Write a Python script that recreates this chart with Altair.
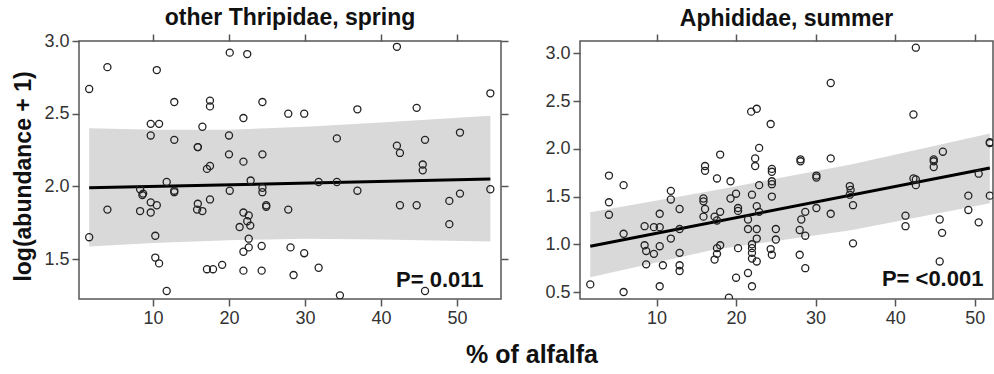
import altair as alt
import pandas as pd

# ---------------- data: other Thripidae, spring ----------------
thrip_x = [1.6, 1.6, 4.0, 4.0, 8.3, 8.6, 8.7, 8.3,
           9.7, 9.7, 9.7, 9.7, 10.8, 10.5, 10.3, 10.3, 10.8, 10.5,
           11.8, 11.8, 12.8, 12.8, 12.8, 12.8,
           15.9, 15.9, 15.8, 15.9, 16.5, 16.5, 17.5, 17.5, 17.1, 17.5, 17.5, 17.1, 17.9, 19.1,
           20.1, 20.0, 20.0, 20.1, 21.9, 21.9, 22.4, 22.85, 21.9, 22.6, 22.4, 22.8, 21.4, 22.6, 22.6, 21.9, 21.9,
           24.3, 24.3, 24.4, 24.4, 24.4, 24.4, 24.9, 24.9,
           27.8, 29.9, 27.8, 28.1, 29.9, 28.5, 31.8, 31.8, 34.2, 34.2, 34.6,
           36.9, 36.9,
           42.1, 42.1, 42.5, 42.5, 44.7, 44.7, 45.8, 45.5, 45.5, 45.8,
           49.0, 49.0, 50.4, 50.4, 54.4, 54.4]
thrip_y = [2.67, 1.65, 2.82, 1.84, 1.98, 1.94, 1.95, 1.83,
           2.43, 2.35, 1.89, 1.82, 2.43, 2.80, 1.66, 1.51, 1.47, 1.87,
           2.03, 1.28, 2.58, 2.32, 1.97, 1.96,
           2.27, 2.27, 1.84, 1.88, 1.83, 2.41, 2.59, 2.55, 2.12, 2.14, 1.91, 1.43, 1.43, 1.46,
           2.92, 2.35, 2.22, 1.97, 2.47, 2.17, 2.91, 2.04, 1.82, 1.80, 1.76, 1.73, 1.72, 1.64, 1.58, 1.55, 1.42,
           1.59, 1.42, 2.58, 2.22, 1.99, 1.96, 1.87, 1.86,
           2.50, 2.50, 1.84, 1.58, 1.54, 1.39, 2.03, 1.44, 2.33, 2.03, 1.25,
           2.53, 1.97,
           2.96, 2.28, 2.23, 1.87, 2.54, 1.87, 2.32, 2.15, 2.11, 1.28,
           1.90, 1.74, 2.37, 1.95, 2.64, 1.98]
thrip_fit_x = [1.6, 54.4]
thrip_fit_y = [1.99, 2.05]
thrip_band_x = [1.6, 10, 20, 30, 40, 54.4]
thrip_band_lo = [1.587, 1.61, 1.63, 1.64, 1.635, 1.62]
thrip_band_hi = [2.40, 2.39, 2.39, 2.41, 2.44, 2.486]

# ---------------- data: Aphididae, summer ----------------
aph_x = [1.67, 4.02, 4.02, 4.02, 5.86, 5.86, 5.86,
         8.5, 8.5, 8.7, 8.7, 9.67, 9.67,
         10.4, 10.4, 10.4, 10.4, 10.8,
         11.8, 11.8, 11.8,
         12.9, 12.9, 12.9, 12.9, 12.9,
         15.9, 15.9, 15.9, 16.1, 16.1, 16.1,
         17.6, 17.3, 17.6, 17.3, 17.6, 17.6, 18.0, 18.0, 18.0,
         19.3, 19.3, 19.1,
         20.0, 20.25, 20.25, 20.25, 20.0,
         21.9, 22.6, 22.4, 22.4, 22.9, 22.9, 22.0, 22.6, 22.9, 21.5, 21.5, 22.6, 22.6, 22.0, 22.0, 22.0, 22.0, 22.6, 21.5, 22.0,
         24.35, 24.5, 24.5, 24.5, 24.5, 24.5, 25.0, 25.0, 24.35, 24.5,
         28.1, 28.1, 28.7, 28.2, 28.0, 28.7, 28.0, 28.7,
         30.1, 30.1, 30.1,
         31.9, 31.9, 31.9,
         34.3, 34.4, 34.3, 34.7, 34.7,
         41.3, 41.3, 42.3, 42.3, 42.6, 42.6, 42.6,
         44.85, 44.85, 44.85, 46.0, 45.6, 45.9, 45.6,
         49.2, 49.2, 50.5, 50.5, 51.9, 51.9, 51.9]
aph_y = [0.58, 1.72, 1.44, 1.31, 1.62, 1.11, 0.50,
         1.19, 0.99, 0.93, 0.79, 1.18, 0.90,
         1.32, 1.18, 0.98, 0.56, 0.78,
         1.56, 1.47, 1.06,
         1.37, 1.16, 0.91, 0.78, 0.72,
         1.48, 1.45, 1.29, 1.82, 1.77, 1.37,
         1.69, 1.29, 1.25, 0.84, 0.96, 0.90, 0.99, 1.94, 1.34,
         1.66, 1.48, 0.44,
         1.53, 1.38, 1.35, 0.96, 0.65,
         2.39, 2.42, 1.90, 1.82, 2.01, 1.62, 1.52, 1.40, 1.34, 1.26, 1.16, 1.16, 1.06, 1.00, 0.96, 0.91, 0.85, 0.82, 0.70, 0.56,
         2.26, 1.79, 1.76, 1.66, 1.63, 1.50, 1.16, 1.05, 0.95, 0.89,
         1.89, 1.87, 1.34, 1.26, 1.15, 1.09, 0.89, 0.75,
         1.72, 1.70, 1.38,
         2.69, 1.90, 1.32,
         1.61, 1.57, 1.52, 1.41, 1.01,
         1.30, 1.19, 2.36, 1.69, 1.68, 1.62, 3.06,
         1.89, 1.87, 1.81, 1.97, 1.26, 1.12, 0.82,
         1.51, 1.36, 1.74, 1.23, 2.07, 2.06, 1.51]
aph_fit_x = [1.67, 51.9]
aph_fit_y = [0.98, 1.80]
aph_band_x = [1.67, 17, 34.6, 51.9]
aph_band_lo = [0.655, 0.94, 1.15, 1.43]
aph_band_hi = [1.335, 1.56, 1.84, 2.16]

x_ticks = [10, 20, 30, 40, 50]
thrip_y_ticks = [1.5, 2.0, 2.5, 3.0]
aph_y_ticks = [0.5, 1.0, 1.5, 2.0, 2.5, 3.0]

LABEL_FONT = "Liberation Sans Narrow, Liberation Sans, Arial"
BOLD_FONT = "Liberation Sans, Arial"


def panel(px, py, fx, fy, bx, blo, bhi, xdom, ydom, yticks, title, ptext,
          ptx, pty, width, ytitle, right_ticks):
    xs = alt.Scale(domain=xdom, nice=False, zero=False)
    ys = alt.Scale(domain=ydom, nice=False, zero=False)
    x_axis = alt.Axis(orient="bottom", values=x_ticks, format="d", title=None)
    if ytitle:
        y_axis = alt.Axis(orient="left", values=yticks, format=".1f", title=ytitle,
                          titleFont=BOLD_FONT, titleFontSize=23, titleFontWeight="bold",
                          titleColor="#111", titlePadding=8, titleY=135)
    else:
        y_axis = alt.Axis(orient="left", values=yticks, format=".1f", title=None)

    band = alt.Chart(pd.DataFrame({"x": bx, "lo": blo, "hi": bhi})).mark_area(
        color="#d9d9d9", opacity=1, clip=True
    ).encode(
        x=alt.X("x:Q", scale=xs, axis=x_axis),
        y=alt.Y("lo:Q", scale=ys, axis=y_axis),
        y2="hi:Q",
    )
    fit = alt.Chart(pd.DataFrame({"x": fx, "y": fy})).mark_line(
        color="black", strokeWidth=3, clip=True
    ).encode(x=alt.X("x:Q", scale=xs), y=alt.Y("y:Q", scale=ys))
    pts = alt.Chart(pd.DataFrame({"x": px, "y": py})).mark_point(
        shape="circle", filled=False, color="#222", size=50, strokeWidth=1.3,
        opacity=1, clip=True
    ).encode(x=alt.X("x:Q", scale=xs), y=alt.Y("y:Q", scale=ys))
    ptxt = alt.Chart(pd.DataFrame({"x": [ptx], "y": [pty], "t": [ptext]})).mark_text(
        align="right", baseline="alphabetic", font=BOLD_FONT, fontSize=22,
        fontWeight="bold", color="#111"
    ).encode(x=alt.X("x:Q", scale=xs), y=alt.Y("y:Q", scale=ys), text="t:N")

    base = alt.layer(band, fit, pts, ptxt)

    ticks_layer = alt.Chart(pd.DataFrame({"x": [fx[0]], "y": [fy[0]]})).mark_point(
        opacity=0
    ).encode(
        x=alt.X("x:Q", scale=alt.Scale(domain=xdom, nice=False, zero=False),
                axis=alt.Axis(orient="top", values=x_ticks, labels=False, title=None)),
        y=alt.Y("y:Q", scale=alt.Scale(domain=ydom, nice=False, zero=False),
                axis=(alt.Axis(orient="right", values=yticks, labels=False, title=None)
                      if right_ticks else None)),
    )

    return alt.layer(base, ticks_layer).resolve_scale(
        x="independent", y="independent"
    ).properties(
        width=width, height=258,
        title=alt.TitleParams(title, font=BOLD_FONT, fontSize=23, fontWeight="bold",
                              color="#111", anchor="middle", offset=2),
    )


left = panel(thrip_x, thrip_y, thrip_fit_x, thrip_fit_y, thrip_band_x, thrip_band_lo,
             thrip_band_hi, [0.26, 55.8], [1.225, 3.0], thrip_y_ticks,
             "other Thripidae, spring", "P= 0.011", 53.5, 1.31, 422,
             "log(abundance + 1)", True)
right = panel(aph_x, aph_y, aph_fit_x, aph_fit_y, aph_band_x, aph_band_lo, aph_band_hi,
              [0.38, 52.3], [0.427, 3.13], aph_y_ticks,
              "Aphididae, summer", "P= <0.001", 51.1, 0.56, 413, None, False)

chart = alt.hconcat(left, right, spacing=34).properties(
    padding={"left": 12, "top": 6, "right": 0, "bottom": 0},
    title=alt.TitleParams("% of alfalfa", orient="bottom", anchor="middle",
                          font=BOLD_FONT, fontSize=25, fontWeight="bold",
                          color="#111", offset=15, dx=29),
).configure_view(
    stroke="#555", strokeWidth=1.5
).configure_axis(
    domain=False, grid=False, tickColor="#555", tickWidth=1.5, tickSize=7,
    labelFont=LABEL_FONT, labelFontSize=18, labelColor="#333", labelPadding=3,
)

chart.save("out.html", embed_options={"renderer": "svg", "actions": False})
